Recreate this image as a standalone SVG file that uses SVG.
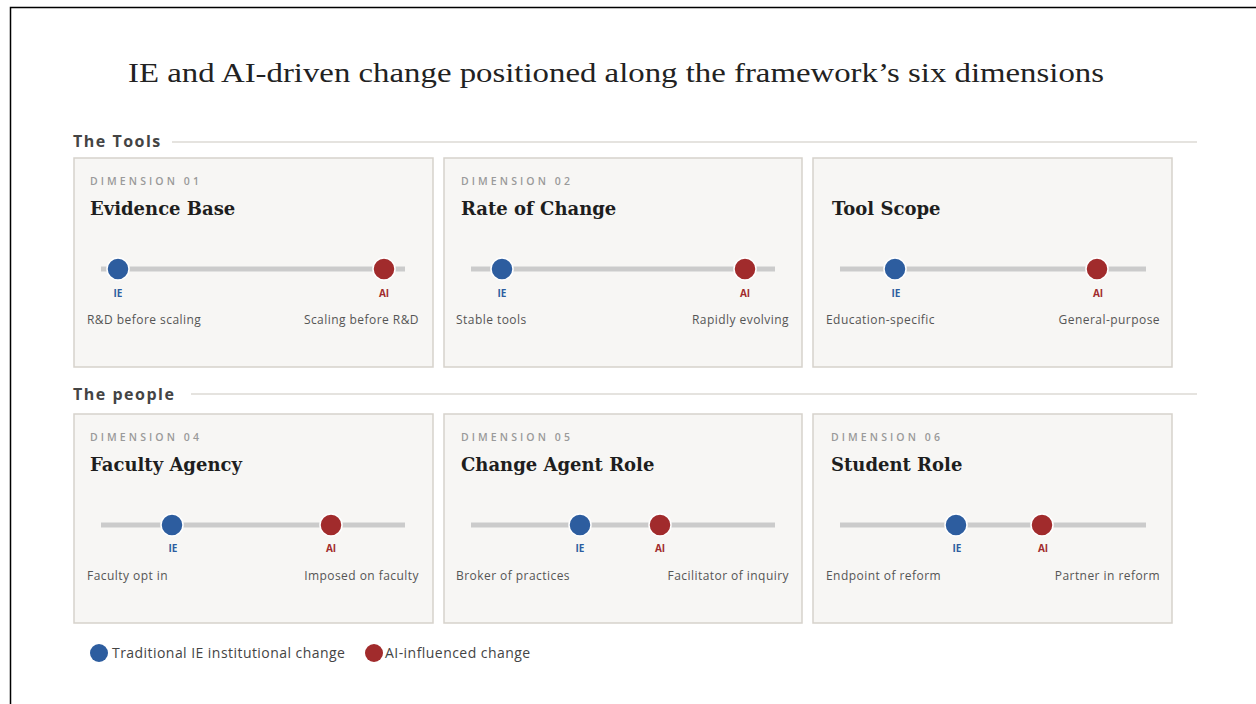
<svg xmlns="http://www.w3.org/2000/svg" width="1256" height="704" viewBox="0 0 1256 704">
<style>
.title{font-family:"Liberation Serif","DejaVu Serif",serif;font-size:28px;fill:#222}
.sec{font-family:"Open Sans","Liberation Sans",sans-serif;font-weight:700;font-size:16px;fill:#444;letter-spacing:1.5px}
.secline{stroke:#dcdad5;stroke-width:1.5}
.card{fill:#f7f6f4;stroke:#d6d2cb;stroke-width:1.5}
.dim{font-family:"Open Sans","Liberation Sans",sans-serif;font-weight:600;font-size:10.5px;fill:#9a9a9a;letter-spacing:3.1px}
.ctitle{font-family:"DejaVu Serif","Liberation Serif",serif;font-weight:700;font-size:18px;fill:#1e1e1e}
.track{stroke:#cbcbcb;stroke-width:5}
.ie{fill:#2d5d9f;stroke:#fff;stroke-width:1.5}
.ai{fill:#a12b2c;stroke:#fff;stroke-width:1.5}
.lie{font-family:"Open Sans","Liberation Sans",sans-serif;font-weight:700;font-size:10px;fill:#2d5d9f;text-anchor:middle}
.lai{font-family:"Open Sans","Liberation Sans",sans-serif;font-weight:700;font-size:10px;fill:#a12b2c;text-anchor:middle}
.end{font-family:"Open Sans","Liberation Sans",sans-serif;font-size:12px;fill:#555;letter-spacing:0.45px}
.r{text-anchor:end}
.leg{font-family:"Open Sans","Liberation Sans",sans-serif;font-size:14px;fill:#444;letter-spacing:0.45px}
</style>
<rect x="0" y="0" width="1256" height="704" fill="#fff"/>
<path d="M10.5 704 V7.5 H1256" fill="none" stroke="#000" stroke-width="1.5"/>
<text class="title" x="616" y="82" text-anchor="middle" textLength="976" lengthAdjust="spacingAndGlyphs">IE and AI-driven change positioned along the framework’s six dimensions</text>

<g id="section-tools">
<text class="sec" x="73" y="147">The Tools</text>
<line class="secline" x1="172" y1="142" x2="1197" y2="142"/>
</g>
<g id="section-people">
<text class="sec" x="73" y="400">The people</text>
<line class="secline" x1="191" y1="394" x2="1197" y2="394"/>
</g>

<g id="connectors">
<line class="track" x1="101" y1="269" x2="405" y2="269"/>
<line class="track" x1="471" y1="269" x2="775" y2="269"/>
<line class="track" x1="840" y1="269" x2="1146" y2="269"/>
<line class="track" x1="101" y1="525" x2="405" y2="525"/>
<line class="track" x1="471" y1="525" x2="775" y2="525"/>
<line class="track" x1="840" y1="525" x2="1146" y2="525"/>
</g>

<g id="dim01">
<rect class="card" x="74" y="158" width="359" height="209"/>
<text class="dim" x="90" y="185">DIMENSION 01</text>
<text class="ctitle" x="90" y="215">Evidence Base</text>
<line class="track" x1="101" y1="269" x2="405" y2="269"/>
<circle class="ie" cx="118" cy="269" r="11"/>
<circle class="ai" cx="384" cy="269" r="11"/>
<text class="lie" x="118" y="297">IE</text>
<text class="lai" x="384" y="297">AI</text>
<text class="end" x="87" y="324">R&amp;D before scaling</text>
<text class="end r" x="419" y="324">Scaling before R&amp;D</text>
</g>

<g id="dim02">
<rect class="card" x="444" y="158" width="358" height="209"/>
<text class="dim" x="461" y="185">DIMENSION 02</text>
<text class="ctitle" x="461" y="215">Rate of Change</text>
<line class="track" x1="471" y1="269" x2="775" y2="269"/>
<circle class="ie" cx="502" cy="269" r="11"/>
<circle class="ai" cx="745" cy="269" r="11"/>
<text class="lie" x="502" y="297">IE</text>
<text class="lai" x="745" y="297">AI</text>
<text class="end" x="456" y="324">Stable tools</text>
<text class="end r" x="789" y="324">Rapidly evolving</text>
</g>

<g id="dim03">
<rect class="card" x="813" y="158" width="359" height="209"/>
<text class="ctitle" x="832" y="215">Tool Scope</text>
<line class="track" x1="840" y1="269" x2="1146" y2="269"/>
<circle class="ie" cx="895" cy="269" r="11"/>
<circle class="ai" cx="1097" cy="269" r="11"/>
<text class="lie" x="896" y="297">IE</text>
<text class="lai" x="1098" y="297">AI</text>
<text class="end" x="826" y="324">Education-specific</text>
<text class="end r" x="1160" y="324">General-purpose</text>
</g>

<g id="dim04">
<rect class="card" x="74" y="414" width="359" height="209"/>
<text class="dim" x="90" y="441">DIMENSION 04</text>
<text class="ctitle" x="90" y="471">Faculty Agency</text>
<line class="track" x1="101" y1="525" x2="405" y2="525"/>
<circle class="ie" cx="172" cy="525" r="11"/>
<circle class="ai" cx="331" cy="525" r="11"/>
<text class="lie" x="173" y="552">IE</text>
<text class="lai" x="331" y="552">AI</text>
<text class="end" x="87" y="580">Faculty opt in</text>
<text class="end r" x="419" y="580">Imposed on faculty</text>
</g>

<g id="dim05">
<rect class="card" x="444" y="414" width="358" height="209"/>
<text class="dim" x="461" y="441">DIMENSION 05</text>
<text class="ctitle" x="461" y="471">Change Agent Role</text>
<line class="track" x1="471" y1="525" x2="775" y2="525"/>
<circle class="ie" cx="580" cy="525" r="11"/>
<circle class="ai" cx="660" cy="525" r="11"/>
<text class="lie" x="580" y="552">IE</text>
<text class="lai" x="660" y="552">AI</text>
<text class="end" x="456" y="580">Broker of practices</text>
<text class="end r" x="789" y="580">Facilitator of inquiry</text>
</g>

<g id="dim06">
<rect class="card" x="813" y="414" width="359" height="209"/>
<text class="dim" x="831" y="441">DIMENSION 06</text>
<text class="ctitle" x="831" y="471">Student Role</text>
<line class="track" x1="840" y1="525" x2="1146" y2="525"/>
<circle class="ie" cx="956" cy="525" r="11"/>
<circle class="ai" cx="1042" cy="525" r="11"/>
<text class="lie" x="957" y="552">IE</text>
<text class="lai" x="1043" y="552">AI</text>
<text class="end" x="826" y="580">Endpoint of reform</text>
<text class="end r" x="1160" y="580">Partner in reform</text>
</g>

<g id="legend">
<circle cx="99" cy="653" r="9" fill="#2d5d9f"/>
<text class="leg" x="112" y="658">Traditional IE institutional change</text>
<circle cx="374" cy="653" r="9" fill="#a12b2c"/>
<text class="leg" x="385" y="658">AI-influenced change</text>
</g>
</svg>
